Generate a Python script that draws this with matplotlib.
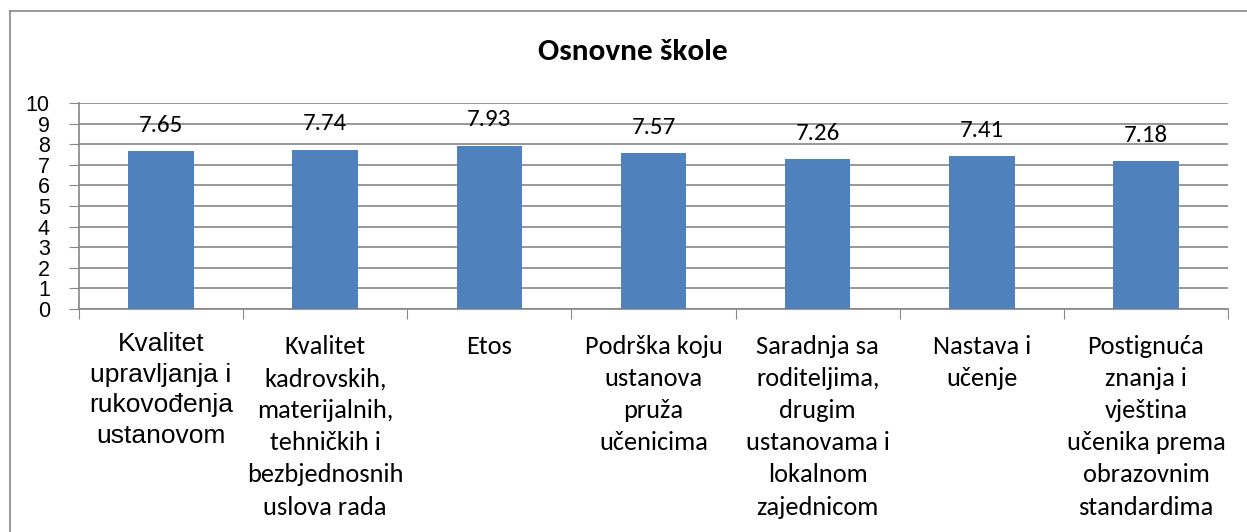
import numpy as np
import matplotlib.pyplot as plt
from matplotlib import transforms
from matplotlib.lines import Line2D

categories = [
    "Kvalitet\nupravljanja i\nrukovođenja\nustanovom",
    "Kvalitet\nkadrovskih,\nmaterijalnih,\ntehničkih i\nbezbjednosnih\nuslova rada",
    "Etos",
    "Podrška koju\nustanova\npruža\nučenicima",
    "Saradnja sa\nroditeljima,\ndrugim\nustanovama i\nlokalnom\nzajednicom",
    "Nastava i\nučenje",
    "Postignuća\nznanja i\nvještina\nučenika prema\nobrazovnim\nstandardima",
]
values = [7.65, 7.74, 7.93, 7.57, 7.26, 7.41, 7.18]
yticks = list(range(0, 11))

grey = '#868686'
fig = plt.figure(figsize=(12.47, 5.32), dpi=100)
ax = fig.add_axes([79/1247, 1-309/532, (1228-79)/1247, (309-103)/532])

x = np.arange(len(values))
ax.bar(x, values, width=0.4, color='#4F81BD', zorder=3)

ax.set_xlim(-0.5, len(values) - 0.5)
ax.set_ylim(0, 10)
ax.set_yticks(yticks)
ax.set_yticklabels([str(t) for t in yticks], fontfamily='Liberation Sans', fontsize=15.5)
ax.set_xticks(np.arange(len(values) + 1) - 0.5)
ax.set_xticklabels([])
ax.tick_params(axis='y', length=7, color=grey, pad=14)
ax.tick_params(axis='x', length=7, color=grey)
ax.yaxis.grid(True, color=grey, linewidth=1.2, zorder=0)
ax.set_axisbelow(True)
for s in ['top', 'right']:
    ax.spines[s].set_visible(False)
for s in ['left', 'bottom']:
    ax.spines[s].set_color(grey)
    ax.spines[s].set_linewidth(1.2)

# value labels above bars
for xi, v in zip(x, values):
    ax.annotate(f"{v:.2f}", (xi, v), xytext=(0, 26), textcoords='offset pixels',
                ha='center', va='center', fontfamily='Carlito', fontsize=18)

# category labels (first one is in Arial, the rest Calibri)
trans = transforms.blended_transform_factory(ax.transData, fig.transFigure)
for i, lab in enumerate(categories):
    if i == 0:
        ax.text(i, 1-332/532, lab, transform=trans, ha='center', va='top',
                fontfamily='Liberation Sans', fontsize=19, linespacing=1.35)
    else:
        ax.text(i, 1-335/532, lab, transform=trans, ha='center', va='top',
                fontfamily='Carlito', fontsize=19, linespacing=1.48)

fig.text(633/1247, 1-52/532, "Osnovne škole", ha='center', va='center',
         fontfamily='Carlito', fontweight='bold', fontsize=22.5)

# chart border
fig.add_artist(Line2D([10/1247, 10/1247], [0, 1-11/532], color=grey, linewidth=1.2,
                      transform=fig.transFigure))
fig.add_artist(Line2D([10/1247, 1], [1-11/532, 1-11/532], color=grey, linewidth=1.2,
                      transform=fig.transFigure))

fig.savefig('out.png', dpi=100)
